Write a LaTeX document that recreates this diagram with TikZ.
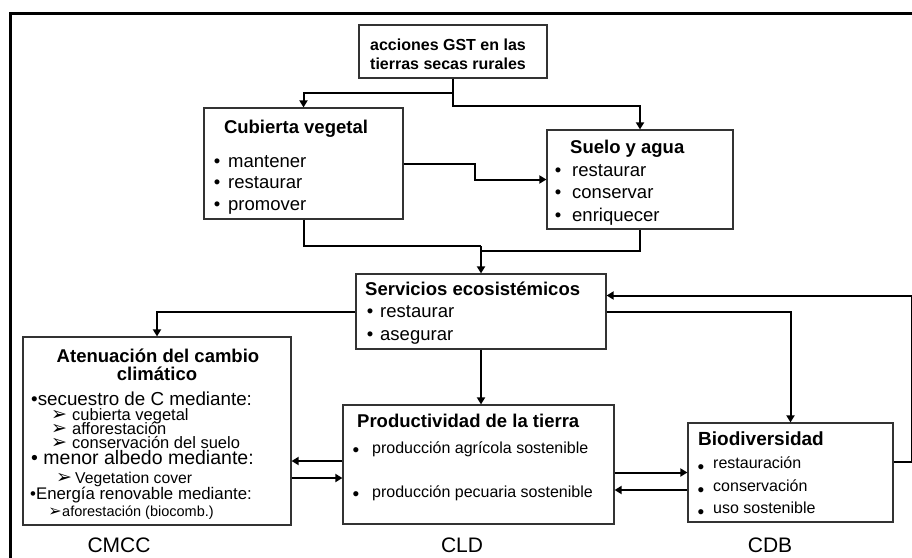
\documentclass[tikz,border=0pt]{standalone}
\usepackage{fontspec}
\usepackage{graphicx}
\setmainfont{Liberation Sans}
\newfontfamily\dejavu{DejaVu Sans}
\usetikzlibrary{arrows.meta}
\newcommand\myfs[1]{\fontsize{#1}{#1}\selectfont}
\begin{document}
\begin{tikzpicture}[x=1pt,y=-1pt,
  box/.style={draw=black!80, line width=1.2pt, inner sep=0, fill=white},
  conn/.style={line width=2pt, draw=black},
  arr/.style={conn, -{Triangle[length=7pt,width=8pt]}},
  ttl/.style={font=\bfseries\myfs{18.5}, inner sep=0, anchor=base west},
  itm/.style={font=\myfs{18.5}, inner sep=0, anchor=base west},
  bul/.style={font=\myfs{18.5}, inner sep=0, anchor=base},
  itms/.style={font=\myfs{16}, inner sep=0, anchor=base west},
  buls/.style={font=\myfs{19}, inner sep=0, anchor=base},
  sub/.style={font=\myfs{16.5}, inner sep=0, anchor=base west},
  mk/.style={font=\dejavu\myfs{19}, inner sep=0, anchor=base},
  lbl/.style={font=\myfs{21}, inner sep=0, anchor=base}
]
\useasboundingbox (0,0) rectangle (912,557);
\clip (0,0) rectangle (912,557);
\fill[white] (0,0) rectangle (912,557);
% outer frame
\draw[line width=3pt] (10,600) -- (10,13) -- (950,13);

% boxes
\node[box, minimum width=188pt, minimum height=53pt] (top) at (453,51.5) {};
\node[box, minimum width=199pt, minimum height=111pt] (cub) at (303.5,163.5) {};
\node[box, minimum width=186pt, minimum height=99pt] (suelo) at (640,179.5) {};
\node[box, minimum width=250pt, minimum height=75pt] (serv) at (481,311.5) {};
\node[box, minimum width=268pt, minimum height=188pt] (aten) at (157,431) {};
\node[box, minimum width=271pt, minimum height=119pt] (prod) at (478.5,464.5) {};
\node[box, minimum width=205pt, minimum height=99pt] (bio) at (790.5,472.5) {};

% top box text
\node[font=\bfseries\myfs{16}, inner sep=0, anchor=base west] (t1) at (370,50) {acciones GST en las};
\node[font=\bfseries\myfs{16}, inner sep=0, anchor=base west] (t2) at (370,69) {tierras secas rurales};

% Cubierta vegetal
\node[ttl, anchor=base] (cubT) at (296,133) {Cubierta vegetal};
\node[bul] (cb1) at (217,167) {•};
\node[itm] (c1) at (228,167) {mantener};
\node[bul] (cb2) at (217,188) {•};
\node[itm] (c2) at (228,188) {restaurar};
\node[bul] (cb3) at (217,210) {•};
\node[itm] (c3) at (228,210) {promover};

% Suelo y agua
\node[ttl] (sT) at (570,153) {Suelo y agua};
\node[bul] (sb1) at (558,176) {•};
\node[itm] (s1t) at (572,176) {restaurar};
\node[bul] (sb2) at (558,198.5) {•};
\node[itm] (s2t) at (572,198.5) {conservar};
\node[bul] (sb3) at (558,221) {•};
\node[itm] (s3t) at (572,221) {enriquecer};

% Servicios
\node[ttl] (vT) at (365,295) {Servicios ecosistémicos};
\node[bul] (vb1) at (370,317) {•};
\node[itm] (v1) at (380,317) {restaurar};
\node[bul] (vb2) at (370,340) {•};
\node[itm] (v2) at (380,340) {asegurar};

% Atenuacion
\node[ttl, anchor=base] (aT1) at (158,362) {Atenuación del cambio};
\node[ttl, anchor=base] (aT2) at (157,380) {climático};
\node[itm, font=\myfs{18.8}] (a1) at (31,405) {•secuestro de C mediante:};
\node[mk] (am1) at (59,420) {➢};
\node[sub] (a11) at (72,420) {cubierta vegetal};
\node[mk] (am2) at (59,434) {➢};
\node[sub] (a12) at (72,434) {afforestación};
\node[mk] (am3) at (59,448) {➢};
\node[sub] (a13) at (72,448) {conservación del suelo};
\node[itm, font=\myfs{19.5}] (a2) at (31,464) {• menor albedo mediante:};
\node[mk] (am4) at (64,483) {➢};
\node[sub, font=\myfs{15.7}] (a21) at (75,483) {Vegetation cover};
\node[itm, font=\myfs{16.8}] (a3) at (30,499) {•Energía renovable mediante:};
\node[mk, font=\dejavu\myfs{16}] (am5) at (55,516) {➢};
\node[sub, font=\myfs{14.5}] (a31) at (62,516) {aforestación (biocomb.)};

% Productividad
\node[ttl] (pT) at (357,427) {Productividad de la tierra};
\node[buls] (pb1) at (356,456) {•};
\node[itms] (p1t) at (372,453) {producción agrícola sostenible};
\node[buls] (pb2) at (356,500) {•};
\node[itms] (p2t) at (372,497) {producción pecuaria sostenible};

% Biodiversidad
\node[ttl, font=\bfseries\myfs{19}] (bT) at (698,445) {Biodiversidad};
\node[buls] (bb1) at (701,473) {•};
\node[itms] (b1t) at (713,468) {restauración};
\node[buls] (bb2) at (701,496) {•};
\node[itms] (b2t) at (713,491) {conservación};
\node[buls] (bb3) at (701,518) {•};
\node[itms] (b3t) at (713,513) {uso sostenible};

% labels
\node[lbl] (l1) at (119,552) {CMCC};
\node[lbl] (l2) at (462,552) {CLD};
\node[lbl] (l3) at (770,552) {CDB};

% connectors
\draw[arr] (top.south) -- ++(0,14) -| (cub.north);
\draw[arr] (top.south) -- ++(0,27) -| (suelo.north);
\draw[arr] (cub.east) -- ++(71,0) |- (suelo.west);
\coordinate (j1) at (481,246);
\coordinate (j2) at (481,251);
\draw[conn] (cub.south) |- (j1);
\draw[conn] (suelo.south) |- (j2);
\draw[arr] (j1) -- (j1 |- serv.north);
\draw[arr] (serv.west) -| (aten.north);
\draw[arr] (serv.south) -- (serv.south |- prod.north);
\draw[arr] (serv.east) -| (bio.north);
\coordinate (b1) at ([yshift=10.5pt]bio.east);
\coordinate (s1) at ([yshift=16pt]serv.east);
\draw[arr] (b1) -- ++(18,0) |- (s1);
\coordinate (p1) at ([yshift=3.5pt]prod.west);
\coordinate (p2) at ([yshift=-13.5pt]prod.west);
\draw[arr] (p1) -- (p1 -| aten.east);
\draw[arr] (p2 -| aten.east) -- (p2);
\draw[arr] (prod.east |- bio.west) -- (bio.west);
\coordinate (q2) at ([yshift=-17.5pt]bio.west);
\draw[arr] (q2) -- (q2 -| prod.east);
\end{tikzpicture}
\end{document}
